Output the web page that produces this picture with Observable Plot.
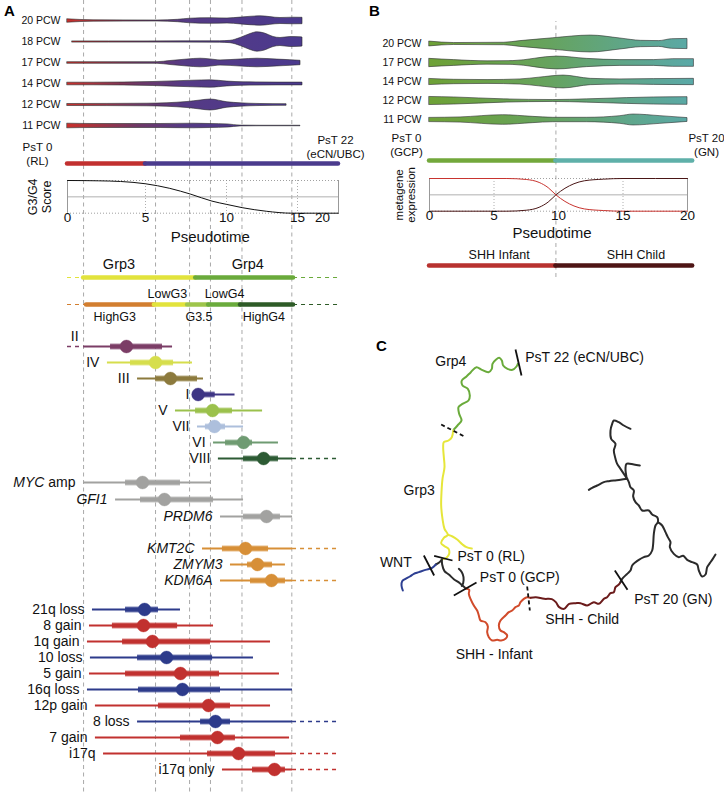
<!DOCTYPE html>
<html><head><meta charset="utf-8">
<script src="https://cdn.jsdelivr.net/npm/d3@7"></script>
<script src="https://cdn.jsdelivr.net/npm/@observablehq/plot@0.6"></script>
<style>
html,body{margin:0;padding:0;background:#fff;}
#fig{position:relative;width:724px;height:793px;overflow:hidden;font-family:'Liberation Sans',Arial,Helvetica,sans-serif;}
#fig svg{position:absolute;left:0;top:0;background:transparent !important;overflow:visible;}
.pl{position:absolute;font-weight:bold;font-size:15px;line-height:1;color:#000;}
</style></head>
<body>
<div id="fig">
  <div class="pl" style="left:4px;top:3px">A</div>
  <div class="pl" style="left:369px;top:3px">B</div>
  <div class="pl" style="left:376px;top:338px">C</div>
</div>
<script>
// ---------------- DATA ----------------
// Panel A: violins (pseudotime, half-width)
const pcwA = ["20 PCW","18 PCW","17 PCW","14 PCW","12 PCW","11 PCW"];
const a20 = [[0,1.7],[1.67,0.7],[5.74,0.5],[7.0,1.2],[7.78,2.3],[9.01,2.8],[10.07,2.5],[10.99,3.4],[12.39,4.7],[13.8,3.0],[14.72,3.3],[16,3.2]];
const a18 = [[0.32,0.6],[5,0.6],[9.6,0.7],[10.28,1.2],[10.99,4],[11.69,8],[12.18,9.7],[12.7,8.5],[13.31,5],[13.8,4],[14.5,5],[15.4,4.8],[16,4.5]];
const a17 = [[0,0.8],[5.74,0.8],[6.54,2],[7.59,3.5],[8.4,4.3],[9.01,3.6],[9.63,2.6],[10.99,3.5],[12.18,4.3],[13.59,3.4],[14.5,2.8],[15.6,2.2]];
const a14 = [[0,1.3],[1.67,1.3],[5.49,2],[7.96,3.3],[9.01,3.7],[10.07,2.4],[11.2,1.7],[13.59,1.4],[16,1.4]];
const a12 = [[0,1.0],[5.12,1.3],[7.59,3],[8.4,4.5],[9.01,5.5],[10.07,2.7],[10.99,1.7],[12.39,1.0],[14.23,0.8]];
const a11 = [[0,2.3],[1.67,2],[5.93,2],[7.96,2.3],[9.01,2],[10.07,1.6],[10.99,0.4],[12.39,0.25],[15.6,0.25]];
// Panel A: reference dashed pseudotime lines
const dashA = [1.03, 5.62, 7.72, 9.01, 11.09, 14.6];
// Panel A: top state bar
const barA = [{state:"RL", x1:0, x2:5}, {state:"eCN/UBC", x1:5, x2:22}];
// Panel A: G3/G4 score curve
const scoreX = [0, 2, 3.4, 5, 6.5, 7.8, 9.1, 10, 11.1, 12.8, 14.6, 22];
const scoreY = [1, 0.99, 0.97, 0.9, 0.76, 0.58, 0.37, 0.27, 0.17, 0.06, 0, 0];
const ticksA = [0, 5, 10, 15, 20];
// Panel A: group bars
const grpSegs = [{row:"Grp", grp:"Grp3", x1:1.03, x2:8.1}, {row:"Grp", grp:"Grp4", x1:8.1, x2:14.72}];
const grpOpen = [{row:"Grp", grp:"Grp3", x1:0, x2:1.03}, {row:"Grp", grp:"Grp4", x1:14.72, x2:22}];
const subSegs = [{row:"Sub", grp:"HighG3", x1:1.22, x2:5.55}, {row:"Sub", grp:"LowG3", x1:5.55, x2:7.5},
  {row:"Sub", grp:"G3.5", x1:7.6, x2:8.9}, {row:"Sub", grp:"LowG4", x1:8.9, x2:10.99}, {row:"Sub", grp:"HighG4", x1:10.99, x2:14.72}];
const subOpen = [{row:"Sub", grp:"HighG3", x1:0, x2:1.22}, {row:"Sub", grp:"HighG4", x1:14.72, x2:22}];
const grpLabels = [{t:"Grp3", x:3.3}, {t:"Grp4", x:11.5}];
const subLabelsAbove = [{t:"LowG3", x:6.35}, {t:"LowG4", x:9.88}];
const subLabelsBelow = [{t:"HighG3", x:3.03}, {t:"G3.5", x:8.3}, {t:"HighG4", x:12.63}];
const grpNames = ["Grp3","Grp4","HighG3","LowG3","G3.5","LowG4","HighG4"];
const grpColors = ["#e2e33c","#6aaa3b","#d27e2f","#e2e33c","#9ec54b","#6aab3c","#2e5b27"];
// Panel A: subgroups  [lo, q1, median, q3, hi]
const subgroupNames = ["II","IV","III","I","V","VII","VI","VIII"];
const subgroupStats = [[1.03,2.76,3.78,6.05,6.67],[2.56,4.04,5.62,6.73,7.9],[4.49,5.62,6.54,8.21,8.58],[8.2,8.2,8.25,9.3,10.6],
  [6.85,8.09,9.14,10.42,12.54],[8.21,8.7,9.26,9.94,11.2],[9.2,9.94,11.2,11.83,13.66],[9.5,11.2,12.61,13.66,14.65]];
const subgroupOpenLeft = ["II"], subgroupOpenRight = ["VIII"];
const subgroupColors = ["#7b3d66","#d6de4c","#8c7a3d","#3e3584","#9bc14c","#adbfdc","#6f9b72","#2d5b34"];
// Panel A: genes
const geneNamesA = ["MYC amp","GFI1","PRDM6"];
const geneStatsA = [[1.03,3.72,4.81,7.16,9.07],[3.08,4.68,6.17,9.2,11.2],[9.63,11.2,12.82,13.8,14.65]];
const geneNamesB = ["KMT2C","ZMYM3","KDM6A"];
const geneStatsB = [[8.52,9.75,11.34,12.96,14.65],[10.28,11.48,12.18,13.24,14.15],[9.63,11.69,13.17,14.15,14.65]];
const geneOpenRight = ["KMT2C","KDM6A"];
// Panel A: cytogenetics
const cytoNames = ["21q loss","8 gain","1q gain","10 loss","5 gain","16q loss","12p gain","8 loss","7 gain","i17q","i17q only"];
const cytoType  = ["loss","gain","gain","loss","gain","loss","gain","loss","gain","gain","gain"];
const cytoStats = [[1.6,3.72,4.94,5.8,7.16],[1.41,2.88,4.87,6.98,9.2],[1.28,3.53,5.43,9.01,13.1],[1.47,4.49,6.3,9.14,11.9],
  [1.41,3.72,7.16,9.57,13.73],[1.28,4.55,7.28,9.63,14.65],[1.79,5.8,8.89,10.28,13.1],[4.49,8.4,9.32,10.28,14.65],
  [1.79,7.16,9.44,10.63,14.44],[2.31,8.83,10.85,13.45,14.65],[9.75,11.83,13.38,14.15,14.65]];
const cytoOpenRight = ["8 loss","i17q","i17q only"];

// Panel B
const pcwB = ["20 PCW","17 PCW","14 PCW","12 PCW","11 PCW"];
const b20 = [[0,2.5],[1.9,1],[5.8,1.3],[7.05,3],[9.6,6],[12.5,8.8],[14.8,5.7],[16.4,3.3],[17.8,3],[18.8,5],[20,5.3]];
const b17 = [[0,4.3],[1.9,3],[4.5,1.7],[6.5,2],[9.9,6.7],[12.2,4.3],[14.8,3],[17.4,3],[18.9,4],[20.5,4]];
const b14 = [[0,3.2],[1.9,2.3],[4.5,2],[7.05,2.7],[8.5,4.5],[10.4,6.7],[12.5,3.3],[14.8,2.7],[17.4,3],[20.5,3.3]];
const b12 = [[0,4.2],[1.9,3.7],[5.8,1.7],[9.6,1],[12.2,1.7],[15.3,3],[17.4,3.7],[20,4]];
const b11 = [[0,2.2],[2.4,2.7],[5.7,5],[8,3.3],[9.6,2.3],[12.2,2.3],[14.8,4],[15.8,5.7],[17.9,4],[20,2]];
const dashB = [9.8];
const barB1 = [{state:"GCP", x1:0, x2:9.8}, {state:"GN", x1:9.8, x2:20.4}];
const barB2 = [{state:"SHH Infant", x1:0, x2:9.8}, {state:"SHH Child", x1:9.8, x2:20.4}];
const metaX = [0, 6, 7.5, 8.5, 9.2, 9.8, 10.5, 11.2, 12, 13.5, 15, 20];
const metaInfant = [1, 1, 0.97, 0.88, 0.72, 0.5, 0.3, 0.16, 0.07, 0.02, 0, 0];
const metaChild  = [0, 0, 0.03, 0.12, 0.28, 0.5, 0.7, 0.84, 0.93, 0.98, 1, 1];
const ticksB = [0, 5, 10, 15, 20];

// Panel C: trajectory branches (embedding coordinates)
const cGrp4 = [[274,387],[285,375],[297,360],[290,340],[288,320],[300,310],[318,300],[322,285],[316,265],[300,255],[298,240],[312,228],[325,215],[342,200],[358,208],[378,215],[388,205],[390,190],[400,178],[410,172],[418,180],[422,195],[435,205],[450,208],[462,198],[466,190]];
const cGrp3 = [[272,390],[268,410],[258,420],[244,425],[242,440],[244,470],[246,500],[240,535],[237,575],[236,615],[240,655],[246,685],[256,703],[244,712],[236,728],[246,737],[258,745],[260,760],[252,772],[238,777]];
const cGrp3b = [[256,703],[270,708],[285,718],[300,732],[312,740],[328,744]];
const cRL = [[238,777],[239,792],[246,812],[259,822],[274,836],[288,845],[300,855],[310,864]];
const cRLwnt = [[238,777],[230,786],[220,792]];
const cRLcurl = [[289,805],[298,815],[303,830],[302,848],[298,856]];
const cWNT = [[220,792],[209,802],[189,808],[169,815],[154,820],[142,828],[129,835],[119,842],[117,855],[121,870]];
const cInfant = [[310,864],[320,868],[319,880],[324,895],[334,915],[344,930],[349,945],[354,960],[369,965],[376,978],[374,995],[379,1010],[389,1020],[404,1018],[416,1020],[429,1015],[434,1005],[424,995],[414,990],[409,975],[414,960],[429,945],[439,935],[449,930],[459,920],[469,915],[474,905],[484,895],[494,890],[504,892]];
const cChild = [[504,892],[520,890],[545,895],[568,896],[580,905],[590,920],[605,925],[620,910],[640,908],[654,908],[674,915],[694,905],[709,910],[724,895],[734,890],[744,878],[754,875],[759,860],[769,852],[774,845]];
const cTrunk = [[774,845],[779,835],[794,820],[804,810],[809,795],[819,785],[829,778],[844,770],[859,765],[869,750],[872,730],[874,700],[879,675],[886,665],[884,650],[869,642],[859,630],[839,630],[829,615],[819,605],[812,588],[814,570],[804,560],[799,545],[794,535]];
const cUpper = [[794,535],[784,520],[774,505],[764,490],[759,475],[754,450],[759,430],[746,415],[744,390],[749,370],[754,360],[769,365],[784,375],[804,385]];
const cLeft = [[794,535],[774,538],[754,540],[739,542],[724,545],[704,555],[689,562],[679,568]];
const cCap = [[792,530],[789,505],[792,490],[814,492],[832,495]];
const cRight = [[886,665],[899,675],[909,695],[916,710],[924,725],[922,740],[934,760],[949,770],[962,766],[974,778],[989,785],[1004,792],[1009,810],[1019,828],[1029,822],[1034,800],[1042,788],[1049,778],[1059,762]];
const cutsSolid = [{x1:459,y1:147,x2:477,y2:225},{x1:215,y1:766,x2:270,y2:780},{x1:184,y1:765,x2:215,y2:825},{x1:274,y1:885,x2:342,y2:846},{x1:757,y1:810,x2:795,y2:868}];
const cutsDashed = [{x1:236,y1:372,x2:304,y2:407},{x1:494,y1:858,x2:502,y2:930}];
const cLabelsStart = [{t:"PsT 22 (eCN/UBC)", x:488, y:172},{t:"PsT 0 (RL)", x:285, y:768},{t:"PsT 0 (GCP)", x:352, y:830},{t:"PsT 20 (GN)", x:815, y:897},{t:"SHH - Child", x:548, y:957}];
const cLabelsMid = [{t:"Grp4", x:265, y:183},{t:"Grp3", x:170, y:570},{t:"WNT", x:100, y:785},{t:"SHH - Infant", x:395, y:1062}];
const lineageNames = ["Grp4","Grp3","WNT","RL","SHH Infant","SHH Child","GN"];
const lineageColors = ["#6aab3b","#e6e63a","#2d3f92","#2b2b2b","#d14b2b","#6b1b1b","#2b2b2b"];

// ---------------- DRAWING ----------------
const W = 724, H = 793;
const FONT = "'Liberation Sans', Arial, Helvetica, sans-serif";
const fig = document.getElementById("fig");
function add(opts) {
  const p = Plot.plot(Object.assign({width: W, height: H, margin: 0,
    style: {background: "none", fontFamily: FONT, overflow: "visible", color: "#111"}}, opts));
  fig.appendChild(p);
  return p;
}
// Panel A pseudotime axis is piecewise-linear (compressed beyond 10)
const wA = d3.scaleLinear().domain([0,5,10,15,20,22]).range([67,145,226,297,322,338]);
const xA = () => ({type: "linear", domain: [0, W], range: [0, W], axis: null});
const xB = () => ({domain: [0,20], range: [429,687], axis: null});
const A = k => d => wA(d[k]);
const A0 = v => () => wA(v);
function addGradient(svg, id, x1, x2, stops) {
  const defs = d3.select(svg).insert("defs", ":first-child");
  const g = defs.append("linearGradient").attr("id", id).attr("gradientUnits", "userSpaceOnUse")
    .attr("x1", x1).attr("x2", x2).attr("y1", 0).attr("y2", 0);
  stops.forEach(([o, c]) => g.append("stop").attr("offset", o).attr("stop-color", c));
}
const at = v => () => v;

// background dashed lines for panel A and B
add({x: xA(), marks: [Plot.ruleX(dashA, {x: d => wA(d), stroke: "#a9a9a9", strokeWidth: 1, strokeDasharray: "4,3.5"})]});
add({x: xB(), y: {domain: [0,1], range: [277,21], axis: null},
  marks: [Plot.ruleX(dashB, {y1: 0, y2: 1, stroke: "#a9a9a9", strokeWidth: 1, strokeDasharray: "4,3.5"})]});

// ---- Panel A violins
const vA = [a20,a18,a17,a14,a12,a11].flatMap((arr, i) => arr.map(([x, w]) => ({pcw: pcwA[i], x, w})));
const pVA = add({height: 140, marginTop: 9.5, marginBottom: 4.5, marginLeft: 64,
  x: xA(), y: {domain: [-10.5, 10.5], axis: null}, fy: {domain: pcwA, padding: 0},
  marks: [
    Plot.areaY(vA, {x: A("x"), y1: d => -d.w, y2: d => d.w, fy: "pcw", fill: "url(#gradA)", stroke: "#2a2a2a", strokeWidth: 0.6, curve: "monotone-x"}),
    Plot.axisFy({anchor: "left", tickSize: 0, tickPadding: 4, fontSize: 10.5, label: null})
  ]});
addGradient(pVA, "gradA", wA(0), wA(16),
  [[0, "#c9302c"], [0.12, "#a3333f"], [0.3, "#6e3866"], [0.5, "#553a85"], [1, "#4b3a8e"]]);

// ---- Panel A state bar
add({x: xA(), y: {type: "point", domain: ["bar"], range: [163,163], padding: 0, axis: null},
  color: {domain: ["RL","eCN/UBC"], range: ["#c2302f","#4b3b8d"]},
  marks: [
    Plot.ruleY(barA, {y: at("bar"), x1: A("x1"), x2: A("x2"), stroke: "state", strokeWidth: 4.5, strokeLinecap: "round"}),
    Plot.text(["PsT 0\n(RL)"], {x: A0(0), y: at("bar"), dx: -30, dy: -10, fontSize: 11.5, lineHeight: 1.2}),
    Plot.text(["PsT 22\n(eCN/UBC)"], {x: A0(22), y: at("bar"), dx: -3, dy: -17, fontSize: 11.5, lineHeight: 1.2})
  ]});

// ---- Panel A score plot
add({marginTop: 180, marginBottom: H - 212.7, x: xA(), y: {domain: [0,1], axis: null},
  marks: [
    Plot.ruleX([5,10,15], {x: d => wA(d), stroke: "#999", strokeWidth: 0.8, strokeDasharray: "1,2"}),
    Plot.ruleY([0,1], {x1: A0(0), x2: A0(22), stroke: "#888", strokeWidth: 0.8, strokeDasharray: "1,2"}),
    Plot.ruleY([0.5], {x1: A0(0), x2: A0(22), stroke: "#b0b0b0", strokeWidth: 1}),
    Plot.ruleX([0,22], {x: d => wA(d), stroke: "#999", strokeWidth: 1}),
    Plot.line(scoreX.map((x, i) => ({x, y: scoreY[i]})), {x: A("x"), y: "y", stroke: "#111", strokeWidth: 1, curve: "monotone-x"}),
    Plot.text(ticksA, {x: d => wA(d), text: d => String(d), frameAnchor: "bottom", dy: 9, fontSize: 13.5}),
    Plot.text(["Pseudotime"], {x: A0(9), frameAnchor: "bottom", dy: 29, fontSize: 15}),
    Plot.text(["G3/G4\nScore"], {x: A0(0), dx: -28, rotate: -90, fontSize: 12.5, lineHeight: 1.12})
  ]});

// ---- Panel A group bars
add({x: xA(), y: {type: "point", domain: ["Grp","Sub"], range: [277,304], padding: 0, axis: null},
  color: {domain: grpNames, range: grpColors},
  marks: [
    Plot.ruleY(grpOpen.concat(subOpen), {y: "row", x1: A("x1"), x2: A("x2"), stroke: "grp", strokeWidth: 1.2, strokeDasharray: "4,4"}),
    Plot.ruleY(grpSegs.concat(subSegs), {y: "row", x1: A("x1"), x2: A("x2"), stroke: "grp", strokeWidth: 4.5, strokeLinecap: "round"}),
    Plot.text(grpLabels, {x: A("x"), y: at("Grp"), text: "t", dy: -13, fontSize: 14.5}),
    Plot.text(subLabelsAbove, {x: A("x"), y: at("Sub"), text: "t", dy: -11, fontSize: 12.5}),
    Plot.text(subLabelsBelow, {x: A("x"), y: at("Sub"), text: "t", dy: 12, fontSize: 12.5})
  ]});

// ---- Forest helper
function rowsOf(names, stats, cats, openLeft, openRight) {
  return names.map((name, i) => ({name, cat: cats[i], lo: stats[i][0], q1: stats[i][1], med: stats[i][2], q3: stats[i][3], hi: stats[i][4],
    openLeft: openLeft.includes(name), openRight: openRight.includes(name)}));
}
function forest(rows, yRange, cDomain, cRange, italic) {
  return add({x: xA(), y: {type: "point", domain: rows.map(d => d.name), range: yRange, padding: 0, axis: null},
    color: {domain: cDomain, range: cRange},
    marks: [
      Plot.ruleY(rows.filter(d => d.openLeft), {y: "name", x1: A0(0), x2: A("lo"), stroke: "cat", strokeWidth: 1.3, strokeDasharray: "4,4"}),
      Plot.ruleY(rows.filter(d => d.openRight), {y: "name", x1: A("hi"), x2: A0(22), stroke: "cat", strokeWidth: 1.3, strokeDasharray: "4,4"}),
      Plot.ruleY(rows, {y: "name", x1: A("lo"), x2: A("hi"), stroke: "cat", strokeWidth: 2}),
      Plot.ruleY(rows, {y: "name", x1: A("q1"), x2: A("q3"), stroke: "cat", strokeWidth: 7, strokeOpacity: 0.3}),
      Plot.ruleY(rows, {y: "name", x1: A("q1"), x2: A("q3"), stroke: "cat", strokeWidth: 4.5}),
      Plot.dot(rows, {x: A("med"), y: "name", r: 6.5, fill: "cat", stroke: "cat", strokeOpacity: 0.35, strokeWidth: 1}),
      Plot.text(rows.filter(d => !d.openLeft), {x: A("lo"), y: "name", text: "name", textAnchor: "end", dx: -8, fontSize: 14, fontStyle: italic ? "italic" : "normal"}),
      Plot.text(rows.filter(d => d.openLeft), {x: A("lo"), y: "name", text: "name", textAnchor: "end", dx: -5, dy: -10, fontSize: 14})
    ]});
}
forest(rowsOf(subgroupNames, subgroupStats, subgroupNames, subgroupOpenLeft, subgroupOpenRight), [344, 459], subgroupNames, subgroupColors, false);
const pGenes = forest(rowsOf(geneNamesA, geneStatsA, geneNamesA.map(() => "structural"), [], []), [481.7, 515.7], ["structural"], ["#a2a2a0"], true);
forest(rowsOf(geneNamesB, geneStatsB, geneNamesB.map(() => "mutation"), [], geneOpenRight), [547.7, 580.5], ["mutation"], ["#d78f37"], true);
forest(rowsOf(cytoNames, cytoStats, cytoType, [], cytoOpenRight), [606.7, 772], ["gain","loss"], ["#c1312f","#2d3b8b"], false);
d3.select(pGenes).selectAll("text").filter(function () { return this.textContent === "MYC amp"; }).each(function () {
  const t = d3.select(this); t.text(null);
  t.append("tspan").attr("font-style", "italic").text("MYC");
  t.append("tspan").attr("font-style", "normal").text(" amp");
});

// ---- Panel B violins
const vB = [b20,b17,b14,b12,b11].flatMap((arr, i) => arr.map(([x, w]) => ({pcw: pcwB[i], x, w})));
const pVB = add({height: 135, marginTop: 32.4, marginBottom: 3.4, marginLeft: 425,
  x: xB(), y: {domain: [-9.9, 9.9], axis: null}, fy: {domain: pcwB, padding: 0},
  marks: [
    Plot.areaY(vB, {x: "x", y1: d => -d.w, y2: d => d.w, fy: "pcw", fill: "url(#gradB)", stroke: "#2f2f2f", strokeWidth: 0.6, curve: "monotone-x"}),
    Plot.axisFy({anchor: "left", tickSize: 0, tickPadding: 4, fontSize: 10.5, label: null})
  ]});
addGradient(pVB, "gradB", pVB.scale("x").apply(0), pVB.scale("x").apply(20.5),
  [[0, "#6ea136"], [0.45, "#66a35e"], [0.75, "#5fa68a"], [1, "#5aa9a8"]]);

// ---- Panel B bars
add({x: xB(), y: {type: "point", domain: ["cell","tumour"], range: [160, 265], padding: 0, axis: null},
  color: {domain: ["GCP","GN","SHH Infant","SHH Child"], range: ["#73a83c","#5fb0a9","#b8322f","#4e1515"]},
  marks: [
    Plot.ruleY(barB1, {y: at("cell"), x1: "x1", x2: "x2", stroke: "state", strokeWidth: 4.5, strokeLinecap: "round"}),
    Plot.ruleY(barB2, {y: at("tumour"), x1: "x1", x2: "x2", stroke: "state", strokeWidth: 4.5, strokeLinecap: "round"}),
    Plot.text(["PsT 0\n(GCP)"], {x: 0, y: at("cell"), dx: -23, dy: -16, fontSize: 11.5, lineHeight: 1.2}),
    Plot.text(["PsT 20\n(GN)"], {x: 20, y: at("cell"), dx: 19, dy: -16, fontSize: 11.5, lineHeight: 1.2}),
    Plot.text(["SHH Infant"], {x: 5.4, y: at("tumour"), dy: -11, fontSize: 12.5}),
    Plot.text(["SHH Child"], {x: 16, y: at("tumour"), dy: -11, fontSize: 12.5})
  ]});

// ---- Panel B metagene plot
add({marginTop: 178, marginBottom: H - 210.7, x: xB(), y: {domain: [0,1], axis: null},
  marks: [
    Plot.ruleX([5,15], {stroke: "#999", strokeWidth: 0.8, strokeDasharray: "1,2"}),
    Plot.ruleY([0,1], {x1: 0, x2: 20, stroke: "#888", strokeWidth: 0.8, strokeDasharray: "1,2"}),
    Plot.ruleY([0.5], {x1: 0, x2: 20, stroke: "#b0b0b0", strokeWidth: 1}),
    Plot.ruleX([0,20], {stroke: "#999", strokeWidth: 1}),
    Plot.line(metaX.map((x, i) => ({x, y: metaChild[i]})), {x: "x", y: "y", stroke: "#4a1616", strokeWidth: 1, curve: "monotone-x"}),
    Plot.line(metaX.map((x, i) => ({x, y: metaInfant[i]})), {x: "x", y: "y", stroke: "#c8342f", strokeWidth: 1, curve: "monotone-x"}),
    Plot.text(ticksB, {x: d => d, text: d => String(d), frameAnchor: "bottom", dy: 9, fontSize: 13.5}),
    Plot.text(["Pseudotime"], {x: 9.5, frameAnchor: "bottom", dy: 27, fontSize: 15}),
    Plot.text(["metagene\nexpression"], {x: 0, dx: -24, rotate: -90, fontSize: 11.5, lineHeight: 1.05})
  ]});

// ---- Panel C trajectory
const branches = [["Grp4", cGrp4], ["Grp3", cGrp3], ["Grp3", cGrp3b], ["RL", cRL], ["RL", cRLwnt], ["RL", cRLcurl], ["WNT", cWNT],
  ["SHH Infant", cInfant], ["SHH Child", cChild], ["GN", cTrunk], ["GN", cUpper], ["GN", cLeft], ["GN", cCap], ["GN", cRight]];
const cPts = branches.flatMap(([lin, pts], i) => pts.map(([x, y]) => ({id: i, lin, x, y})));
add({x: {domain: [0,1086], range: [362,724], axis: null}, y: {domain: [0,1380], range: [300,760], axis: null},
  color: {domain: lineageNames, range: lineageColors},
  marks: [
    Plot.line(cPts, {x: "x", y: "y", z: "id", stroke: "lin", strokeWidth: 2, curve: "catmull-rom"}),
    Plot.link(cutsSolid, {x1: "x1", y1: "y1", x2: "x2", y2: "y2", stroke: "#111", strokeWidth: 1.8}),
    Plot.link(cutsDashed, {x1: "x1", y1: "y1", x2: "x2", y2: "y2", stroke: "#111", strokeWidth: 1.8, strokeDasharray: "4,3"}),
    Plot.text(cLabelsStart, {x: "x", y: "y", text: "t", textAnchor: "start", fontSize: 14}),
    Plot.text(cLabelsMid, {x: "x", y: "y", text: "t", fontSize: 14})
  ]});
</script>
</body></html>
